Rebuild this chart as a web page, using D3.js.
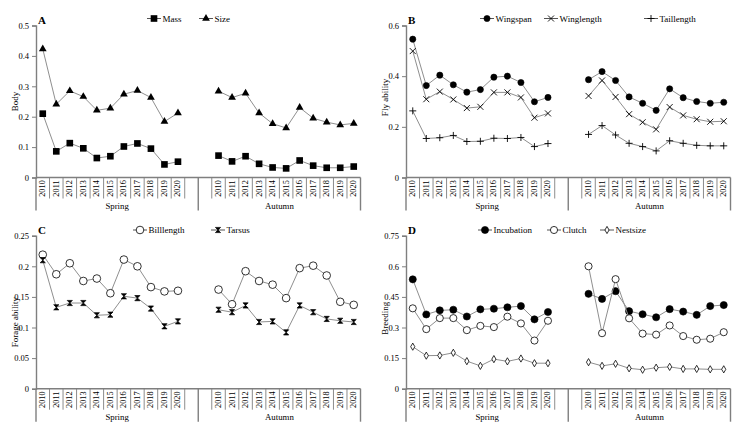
<!DOCTYPE html>
<html>
<head>
<meta charset="utf-8">
<script src="https://cdn.jsdelivr.net/npm/d3@7"></script>
<style>
  html, body { margin: 0; padding: 0; background: #fff; }
  svg { display: block; }
  text { font-family: "Liberation Serif", "Times New Roman", serif; fill: #000; }
</style>
</head>
<body>
<svg id="chart" width="740" height="431"></svg>
<script>
// ---------- data ----------
const years = ["2010","2011","2012","2013","2014","2015","2016","2017","2018","2019","2020"];
const seasons = ["Spring","Autumn"];

// Panel A – Body
const massSpring   = [0.210,0.086,0.113,0.096,0.064,0.070,0.102,0.112,0.095,0.043,0.052];
const massAutumn   = [0.072,0.053,0.070,0.045,0.033,0.030,0.056,0.039,0.032,0.032,0.036];
const sizeSpring   = [0.423,0.241,0.285,0.266,0.221,0.228,0.274,0.286,0.263,0.184,0.212];
const sizeAutumn   = [0.284,0.263,0.277,0.212,0.177,0.163,0.230,0.195,0.182,0.173,0.178];
const ticksA = [0,0.1,0.2,0.3,0.4,0.5];
const labelsA = ["0","0.1","0.2","0.3","0.4","0.5"];

// Panel B – Fly ability
const wingspanSpring   = [0.546,0.363,0.404,0.366,0.337,0.347,0.396,0.400,0.375,0.299,0.316];
const wingspanAutumn   = [0.386,0.418,0.383,0.318,0.293,0.265,0.350,0.315,0.300,0.293,0.297];
const winglengthSpring = [0.499,0.309,0.339,0.308,0.274,0.279,0.336,0.336,0.316,0.236,0.253];
const winglengthAutumn = [0.322,0.383,0.318,0.250,0.218,0.190,0.278,0.245,0.230,0.220,0.222];
const taillengthSpring = [0.263,0.154,0.157,0.166,0.142,0.143,0.155,0.154,0.158,0.122,0.134];
const taillengthAutumn = [0.170,0.205,0.168,0.135,0.122,0.105,0.145,0.135,0.127,0.125,0.125];
const ticksB = [0,0.2,0.4,0.6];
const labelsB = ["0","0.2","0.4","0.6"];

// Panel C – Forage ability
const billSpring   = [0.219,0.187,0.205,0.176,0.180,0.156,0.211,0.200,0.166,0.159,0.160];
const billAutumn   = [0.162,0.138,0.192,0.176,0.170,0.148,0.197,0.201,0.185,0.142,0.137];
const tarsusSpring = [0.210,0.133,0.140,0.140,0.120,0.121,0.151,0.148,0.131,0.102,0.110];
const tarsusAutumn = [0.129,0.125,0.136,0.109,0.110,0.092,0.136,0.125,0.114,0.111,0.109];
const ticksC = [0,0.05,0.1,0.15,0.2,0.25];
const labelsC = ["0","0.05","0.1","0.15","0.2","0.25"];

// Panel D – Breeding
const incubationSpring = [0.536,0.364,0.384,0.387,0.354,0.389,0.392,0.399,0.405,0.340,0.376];
const incubationAutumn = [0.465,0.440,0.478,0.380,0.365,0.350,0.390,0.378,0.362,0.405,0.410];
const clutchSpring     = [0.394,0.292,0.346,0.346,0.287,0.308,0.302,0.353,0.320,0.236,0.333];
const clutchAutumn     = [0.600,0.272,0.537,0.345,0.270,0.265,0.310,0.258,0.240,0.245,0.277];
const nestSpring       = [0.206,0.162,0.163,0.176,0.135,0.112,0.145,0.134,0.148,0.125,0.125];
const nestAutumn       = [0.130,0.112,0.122,0.100,0.093,0.103,0.107,0.097,0.097,0.095,0.095];
const ticksD = [0,0.15,0.3,0.45,0.6,0.75];
const labelsD = ["0","0.15","0.3","0.45","0.6","0.75"];

// ---------- drawing ----------
const svg = d3.select("#chart");
const LINE = "#8f8f8f";
const AXIS = "#7f7f7f";

// slot keys: spring years + blank, blank + autumn years
const slots = [...years.map(y => "S" + y), "Sblank", "Ablank", ...years.map(y => "A" + y)];

const markers = {
  square:   {path: d3.symbol(d3.symbolSquare, 44)(),   fill: "#000", stroke: "none"},
  triangle: {path: d3.symbol(d3.symbolTriangle, 26)(), fill: "#000", stroke: "none"},
  dotS:     {path: d3.symbol(d3.symbolCircle, 30)(),   fill: "#000", stroke: "#000"},
  cross:    {path: "M-3,-3L3,3M-3,3L3,-3", fill: "none", stroke: "#000", sw: 0.9},
  plus:     {path: "M-3.5,0L3.5,0M0,-3.5L0,3.5", fill: "none", stroke: "#000", sw: 0.9},
  openL:    {path: d3.symbol(d3.symbolCircle, 46)(),   fill: "#fff", stroke: "#000", sw: 0.8},
  hour:     {path: "M-2.6,-2.6L2.6,-2.6L-2.6,2.6L2.6,2.6Z", fill: "#000", stroke: "#000", sw: 0.7},
  dotM:     {path: d3.symbol(d3.symbolCircle, 40)(),   fill: "#000", stroke: "#000"},
  openM:    {path: d3.symbol(d3.symbolCircle, 40)(),   fill: "#fff", stroke: "#000", sw: 0.8},
  diam:     {path: d3.symbol(d3.symbolDiamond, 15)(),  fill: "#fff", stroke: "#000", sw: 0.8}
};

function drawMarker(g, m, x, y) {
  g.append("path").attr("d", m.path).attr("transform", `translate(${x},${y})`)
    .attr("fill", m.fill).attr("stroke", m.stroke).attr("stroke-width", m.sw || 0.6);
}

function drawPanel(p) {
  const g = svg.append("g");
  const x = d3.scaleBand().domain(slots).range([p.x0, p.x1]).paddingInner(0).paddingOuter(0);
  const y = d3.scaleLinear().domain([0, p.ymax]).range([p.y0, p.y1]);
  const bw = x.bandwidth();

  // y axis
  const ya = d3.axisLeft(y).tickValues(p.ticks).tickFormat((d, i) => p.labels[i]).tickSize(4).tickPadding(3);
  const yg = g.append("g").attr("transform", `translate(${p.x0},0)`).call(ya);
  yg.attr("font-family", null).attr("font-size", null);
  yg.select(".domain").attr("stroke", AXIS).attr("stroke-width", 1.4);
  yg.selectAll(".tick line").attr("stroke", AXIS).attr("stroke-width", 1);
  yg.selectAll(".tick text").style("font-family", "Liberation Serif").style("font-size", "8.5px").attr("fill", "#000");

  // x axis line
  g.append("line").attr("x1", p.x0).attr("x2", p.x1).attr("y1", p.y0).attr("y2", p.y0)
    .attr("stroke", AXIS).attr("stroke-width", 1.4);

  // category boundaries
  const bounds = d3.range(slots.length + 1);
  g.selectAll("line.b").data(bounds).enter().append("line")
    .attr("x1", i => p.x0 + i * bw).attr("x2", i => p.x0 + i * bw)
    .attr("y1", p.y0).attr("y2", i => (i % 12 === 0) ? p.y0 + 33 : p.y0 + 21)
    .attr("stroke", AXIS).attr("stroke-width", i => (i % 12 === 0) ? 1.4 : 0.9);

  // year labels
  slots.forEach(s => {
    if (s.endsWith("blank")) return;
    const cx = x(s) + bw / 2, cy = p.y0 + 11;
    g.append("text").text(s.slice(1))
      .attr("transform", `translate(${cx},${cy}) rotate(-90)`)
      .attr("text-anchor", "middle").attr("dominant-baseline", "central")
      .style("font-size", "8.3px");
  });
  // season labels
  seasons.forEach((s, i) => {
    g.append("text").text(s)
      .attr("x", p.x0 + (i * 12 + 6) * bw).attr("y", p.y0 + 31)
      .attr("text-anchor", "middle").style("font-size", "8.8px");
  });

  // y title
  g.append("text").text(p.title)
    .attr("transform", `translate(${p.titleX},${(p.y0 + p.y1) / 2 + (p.titleDy || 0)}) rotate(-90)`)
    .attr("text-anchor", "middle").attr("dominant-baseline", "central").style("font-size", "9px");

  // panel letter
  g.append("text").text(p.letter).attr("x", p.x0 + 2).attr("y", p.y1 - 2)
    .style("font-size", "11px").style("font-weight", "bold");

  // series
  const line = d3.line().x(d => x(d.k) + bw / 2).y(d => y(d.v));
  p.series.forEach(se => {
    [[se.spring, "S"], [se.autumn, "A"]].forEach(([vals, pre]) => {
      const pts = vals.map((v, i) => ({k: pre + years[i], v}));
      g.append("path").datum(pts).attr("d", line).attr("fill", "none")
        .attr("stroke", LINE).attr("stroke-width", 1);
      pts.forEach(d => drawMarker(g, markers[se.marker], x(d.k) + bw / 2, y(d.v)));
    });
    // legend
    const lx = se.legX, ly = p.legY;
    g.append("line").attr("x1", lx - 7).attr("x2", lx + 7).attr("y1", ly).attr("y2", ly)
      .attr("stroke", "#555").attr("stroke-width", 1);
    drawMarker(g, markers[se.marker], lx, ly);
    g.append("text").text(se.name).attr("x", lx + 8.5).attr("y", ly)
      .attr("dominant-baseline", "central").style("font-size", "9px");
  });
}

drawPanel({
  letter: "A", title: "Body", titleX: 15, x0: 36, x1: 360.5, y0: 177.5, y1: 25.5, ymax: 0.5,
  ticks: ticksA, labels: labelsA, legY: 18.5,
  series: [
    {name: "Mass", spring: massSpring, autumn: massAutumn, marker: "square", legX: 154},
    {name: "Size", spring: sizeSpring, autumn: sizeAutumn, marker: "triangle", legX: 206}
  ]
});
drawPanel({
  letter: "B", title: "Fly ability", titleX: 385, titleDy: -4, x0: 406, x1: 730.5, y0: 177.5, y1: 25.5, ymax: 0.6,
  ticks: ticksB, labels: labelsB, legY: 18.5,
  series: [
    {name: "Wingspan", spring: wingspanSpring, autumn: wingspanAutumn, marker: "dotS", legX: 487},
    {name: "Winglength", spring: winglengthSpring, autumn: winglengthAutumn, marker: "cross", legX: 551},
    {name: "Taillength", spring: taillengthSpring, autumn: taillengthAutumn, marker: "plus", legX: 651}
  ]
});
drawPanel({
  letter: "C", title: "Forage ability", titleX: 15, titleDy: 10, x0: 36, x1: 360.5, y0: 388.7, y1: 235.7, ymax: 0.25,
  ticks: ticksC, labels: labelsC, legY: 230,
  series: [
    {name: "Billlength", spring: billSpring, autumn: billAutumn, marker: "openL", legX: 140},
    {name: "Tarsus", spring: tarsusSpring, autumn: tarsusAutumn, marker: "hour", legX: 218}
  ]
});
drawPanel({
  letter: "D", title: "Breeding", titleX: 385, titleDy: 6, x0: 406, x1: 730.5, y0: 388.7, y1: 235.7, ymax: 0.75,
  ticks: ticksD, labels: labelsD, legY: 230,
  series: [
    {name: "Incubation", spring: incubationSpring, autumn: incubationAutumn, marker: "dotM", legX: 485},
    {name: "Clutch", spring: clutchSpring, autumn: clutchAutumn, marker: "openM", legX: 554},
    {name: "Nestsize", spring: nestSpring, autumn: nestAutumn, marker: "diam", legX: 607}
  ]
});
</script>
</body>
</html>
